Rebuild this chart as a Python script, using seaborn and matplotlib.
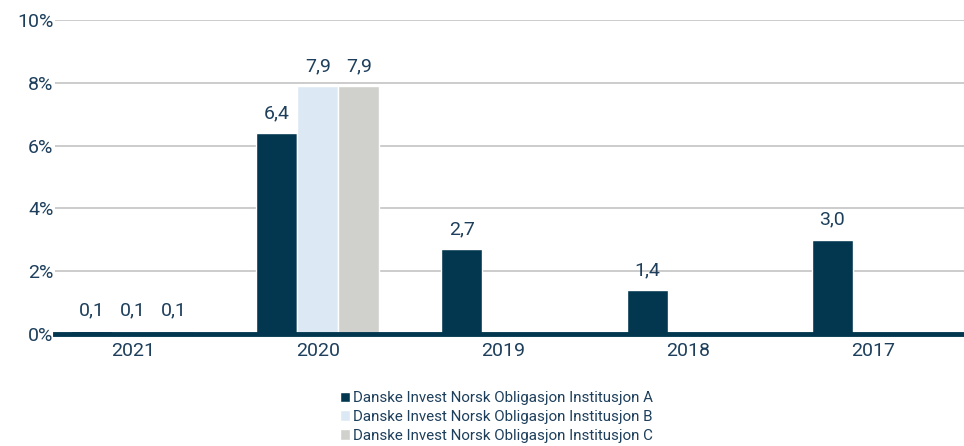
import seaborn as sns
import matplotlib.pyplot as plt
import matplotlib.ticker as mtick
import pandas as pd
import numpy as np

years = ['2021', '2020', '2019', '2018', '2017']
serie_a = [0.1, 6.4, 2.7, 1.4, 3.0]
serie_b = [0.1, 7.9, np.nan, np.nan, np.nan]
serie_c = [0.1, 7.9, np.nan, np.nan, np.nan]
navn = ['Danske Invest Norsk Obligasjon Institusjon A',
        'Danske Invest Norsk Obligasjon Institusjon B',
        'Danske Invest Norsk Obligasjon Institusjon C']

df = pd.DataFrame({'år': years * 3,
                   'avkastning': serie_a + serie_b + serie_c,
                   'fond': [navn[0]] * 5 + [navn[1]] * 5 + [navn[2]] * 5})

sns.set_style('white')
plt.rcParams['font.family'] = ['Roboto', 'DejaVu Sans']
tekst = '#1d3f5c'

fig = plt.figure(figsize=(9.64, 4.46), dpi=100)
ax = fig.add_axes([0.057, 0.251, 0.943, 0.704])
sns.barplot(data=df, x='år', y='avkastning', hue='fond', order=years, hue_order=navn,
            palette=['#02374f', '#dce9f5', '#d0d0cc'], width=0.665, saturation=1,
            ax=ax, legend=True)

ax.set_xlim(-0.42, 4.49)
ax.set_ylim(0, 10)
ax.set_yticks([0, 2, 4, 6, 8, 10])
ax.yaxis.set_major_formatter(mtick.FuncFormatter(lambda v, p: f'{v:.0f}%'))
ax.grid(axis='y', color='#c4c4c4', linewidth=1.2)
ax.set_axisbelow(True)
for s in ['top', 'right', 'left']:
    ax.spines[s].set_visible(False)
ax.spines['bottom'].set_color('#02374f')
ax.spines['bottom'].set_linewidth(3.5)
ax.tick_params(axis='y', length=0, labelsize=14, colors=tekst, pad=1)
ax.tick_params(axis='x', length=0, labelsize=14, colors=tekst, pad=6)
ax.set_xlabel('')
ax.set_ylabel('')

for cont in ax.containers:
    labels = ['' if np.isnan(v) else f'{v:.1f}'.replace('.', ',') for v in cont.datavalues]
    ax.bar_label(cont, labels=labels, padding=8, fontsize=14, color=tekst)

leg = ax.legend(loc='upper center', bbox_to_anchor=(0.515, 0.14), bbox_transform=fig.transFigure,
                ncol=1, frameon=False, fontsize=10.9, handlelength=0.7, handleheight=0.7,
                handletextpad=0.2, labelspacing=0.32, borderpad=0)
for t in leg.get_texts():
    t.set_color(tekst)

fig.savefig('out.png', dpi=100)
